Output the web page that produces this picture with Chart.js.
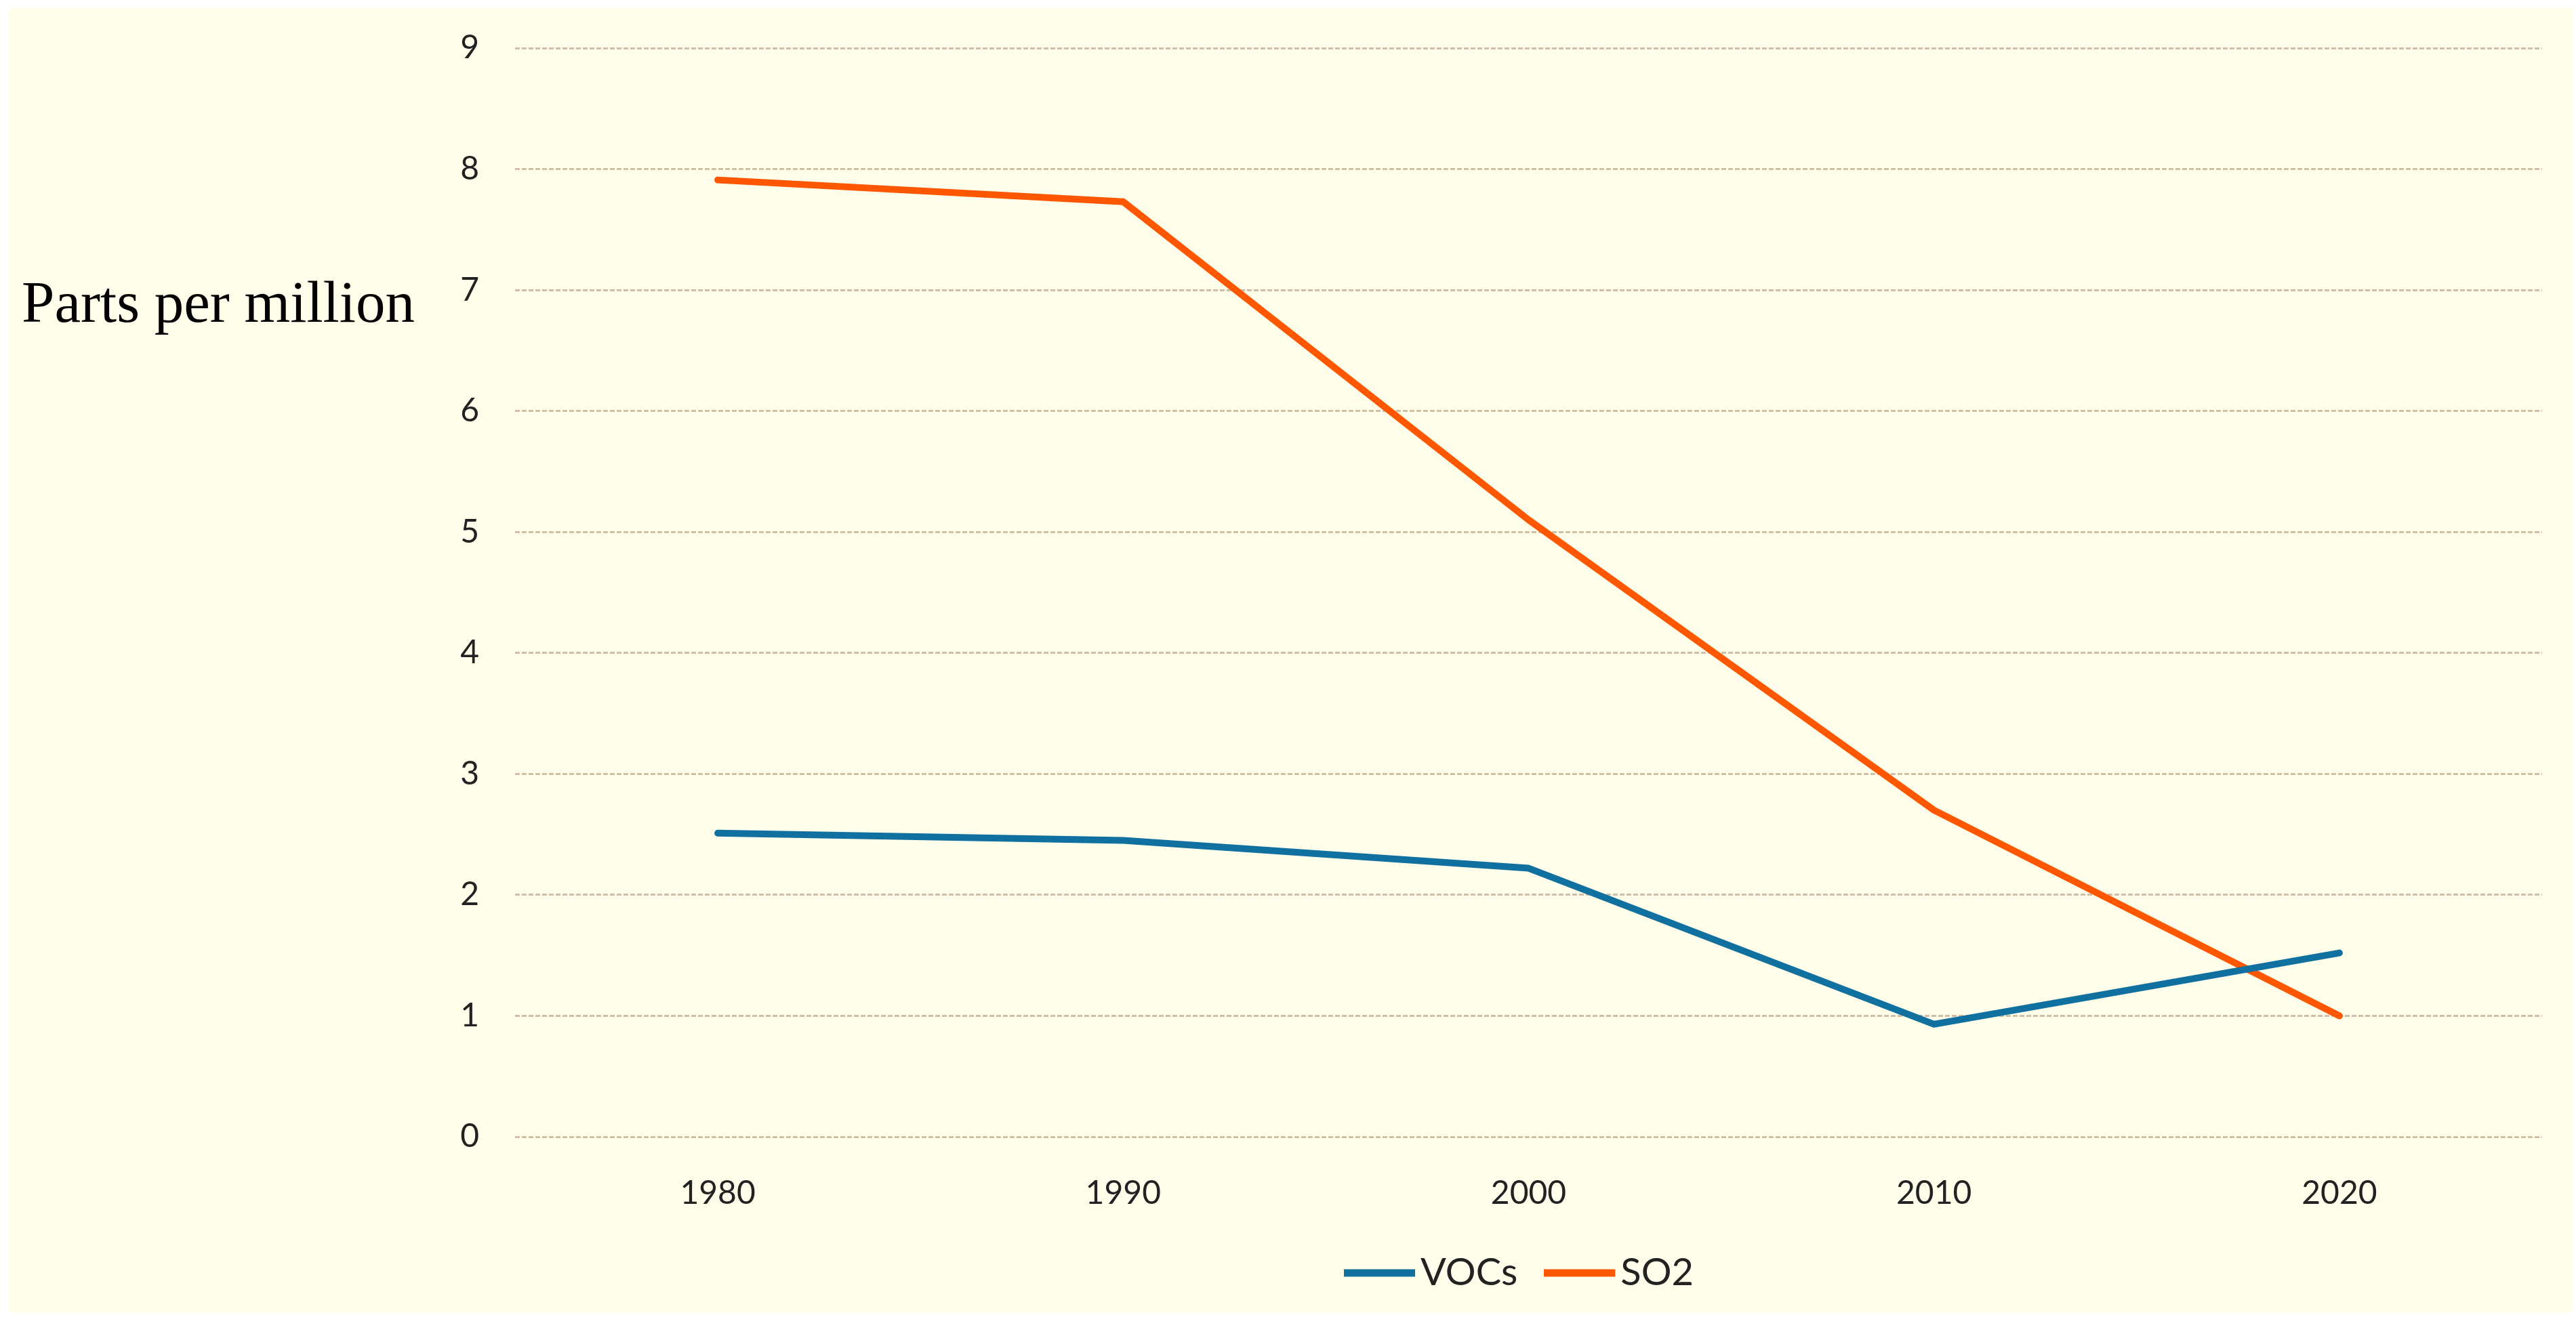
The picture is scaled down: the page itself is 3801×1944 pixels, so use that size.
<!DOCTYPE html>
<html>
<head>
<meta charset="utf-8">
<script src="https://cdn.jsdelivr.net/npm/chart.js@4.4.1/dist/chart.umd.min.js"></script>
<style>
  html, body { margin: 0; padding: 0; background: #ffffff; }
  #wrap { position: absolute; left: 14px; top: 12px; width: 3781px; height: 1925px; background: #fffeeb; }
  canvas { display: block; }
</style>
</head>
<body>
<div id="wrap"><canvas id="chart"></canvas></div>
<script>
const years = ['1980', '1990', '2000', '2010', '2020'];
const vocs  = [2.51, 2.45, 2.22, 0.93, 1.52];
const so2   = [7.91, 7.73, 5.10, 2.70, 1.00];
const yTicks = [0, 1, 2, 3, 4, 5, 6, 7, 8, 9];
const yTitle = 'Parts per million';

const blue = '#10709f';
const orange = '#ff5600';

// legend swatch: a short line that sits close to its label, like Excel's
function legendLine(color) {
  const c = document.createElement('canvas');
  c.width = 114;
  c.height = 12;
  const g = c.getContext('2d');
  g.strokeStyle = color;
  g.lineWidth = 11;
  g.beginPath();
  g.moveTo(0, 6);
  g.lineTo(105, 6);
  g.stroke();
  return c;
}

// y-axis title is horizontal in the original, so draw it by hand
const sideTitle = {
  id: 'sideTitle',
  afterDraw(chart) {
    const ctx = chart.ctx;
    const y = chart.scales.y.getPixelForValue(yTicks[7]);
    ctx.save();
    ctx.font = '87px "Liberation Serif", "Times New Roman", serif';
    ctx.fillStyle = '#000000';
    ctx.textAlign = 'left';
    ctx.textBaseline = 'alphabetic';
    ctx.fillText(yTitle, 18, y + 47);
    ctx.restore();
  }
};

const ctx = document.getElementById('chart').getContext('2d');
new Chart(ctx, {
  type: 'line',
  data: {
    labels: years,
    datasets: [
      { label: 'VOCs', data: vocs, borderColor: blue, backgroundColor: blue,
        borderWidth: 10, pointRadius: 0, pointStyle: legendLine(blue),
        tension: 0, borderCapStyle: 'round', borderJoinStyle: 'round' },
      { label: 'SO2', data: so2, borderColor: orange, backgroundColor: orange,
        borderWidth: 10, pointRadius: 0, pointStyle: legendLine(orange),
        tension: 0, borderCapStyle: 'round', borderJoinStyle: 'round' }
    ]
  },
  options: {
    responsive: true,
    maintainAspectRatio: false,
    animation: false,
    layout: { padding: { left: 640, right: 44, top: 59, bottom: 20 } },
    plugins: {
      legend: {
        position: 'bottom',
        fullSize: false,
        labels: {
          usePointStyle: true,
          boxWidth: 56,
          padding: 68,
          color: '#222222',
          font: { family: 'Lato, "Noto Sans", sans-serif', size: 56 }
        }
      },
      tooltip: { enabled: false }
    },
    scales: {
      x: {
        offset: true,
        afterFit(scale) {
          scale.height = 105;
          scale.paddingLeft = 0;
          scale.paddingRight = 0;
        },
        grid: { display: false },
        border: { display: false },
        ticks: {
          padding: 47,
          color: '#222222',
          font: { family: 'Lato, "Noto Sans", sans-serif', size: 48 }
        }
      },
      y: {
        min: 0,
        max: 9,
        afterFit(scale) {
          scale.width = 106;
          scale.paddingTop = 0;
          scale.paddingBottom = 0;
        },
        afterBuildTicks(scale) { scale.ticks = yTicks.map(v => ({ value: v })); },
        grid: { color: '#cfbfa9', lineWidth: 3, drawTicks: false },
        border: { display: false, dash: [7, 3] },
        ticks: {
          padding: 53,
          color: '#222222',
          font: { family: 'Lato, "Noto Sans", sans-serif', size: 48 }
        }
      }
    }
  },
  plugins: [sideTitle]
});
</script>
</body>
</html>
